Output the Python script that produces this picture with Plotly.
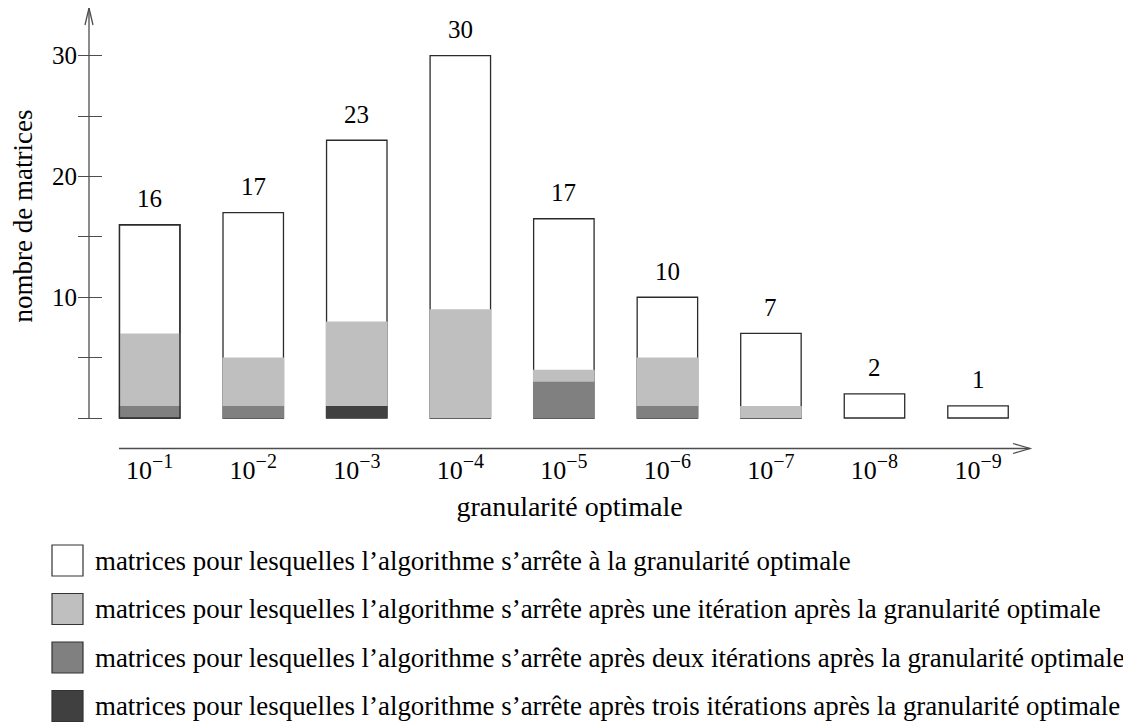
import plotly.graph_objects as go
import numpy as np

# ---------------- data ----------------
exponents = ["−1", "−2", "−3", "−4", "−5", "−6", "−7", "−8", "−9"]
totals = [16, 17, 23, 30, 16.5, 10, 7, 2, 1]          # drawn bar heights
displayed = [16, 17, 23, 30, 17, 10, 7, 2, 1]         # numbers written above the bars
one_iter = [6, 4, 7, 9, 1, 4, 1, 0, 0]
two_iter = [1, 1, 0, 0, 3, 1, 0, 0, 0]
three_iter = [0, 0, 1, 0, 0, 0, 0, 0, 0]
y_ticks = [10, 20, 30]
y_minor_step = 5
legend_labels = [
    "matrices pour lesquelles l’algorithme s’arrête à la granularité optimale",
    "matrices pour lesquelles l’algorithme s’arrête après une itération après la granularité optimale",
    "matrices pour lesquelles l’algorithme s’arrête après deux itérations après la granularité optimale",
    "matrices pour lesquelles l’algorithme s’arrête après trois itérations après la granularité optimale",
]
x_title = "granularité optimale"
y_title = "nombre de matrices"

# ---------------- styles / geometry ----------------
W, H = 1131, 722          # browser window
OFF = 8                   # default page body margin
FW, FH = W - OFF, H - OFF # figure size
FONT = "Liberation Serif"
colors = ["#ffffff", "#bfbfbf", "#808080", "#404040"]
OUT = "#2b2b2b"
AXC = "#4d4d4d"
X0, SX = 149.7, 103.54      # screen px of category 0, px per category
Y0, SY = 418.0, 12.077      # screen px of y=0, px per unit
BW = 0.584

def dx(px):
    return (px - X0) / SX

def dy(px):
    return (Y0 - px) / SY

def px_(px):
    return (px - OFF) / FW

def py_(py):
    return 1 - (py - OFF) / FH

ticktext = [f"10<sup><span style='font-size:20px'>{e}</span></sup>" for e in exponents]
xs = list(range(len(exponents)))
c3 = np.array(three_iter)
c2 = c3 + np.array(two_iter)
c1 = c2 + np.array(one_iter)

fig = go.Figure()
fig.add_trace(go.Bar(x=xs, y=totals, width=BW, marker=dict(color=colors[0], line=dict(color=OUT, width=1.3))))
for vals, col in [(c1, colors[1]), (c2, colors[2]), (c3, colors[3])]:
    fig.add_trace(go.Bar(x=xs, y=vals, width=BW + 0.012, marker=dict(color=col, line=dict(width=0))))
# first bar keeps its outline visible on top of the grey parts
outline_w = [1.3] + [0] * (len(xs) - 1)
fig.add_trace(go.Bar(x=xs, y=totals, width=BW,
                     marker=dict(color="rgba(0,0,0,0)", line=dict(color=OUT, width=outline_w))))

for i, (t, d) in enumerate(zip(totals, displayed)):
    fig.add_annotation(x=i, y=t, text=str(d), showarrow=False, yanchor="middle", yshift=26,
                       font=dict(family=FONT, size=25, color="black"))

shapes = []
ax_x = dx(89)
y_top = dy(8)
shapes.append(dict(type="line", x0=ax_x, x1=ax_x, y0=0, y1=y_top, line=dict(color=AXC, width=1.3)))
shapes.append(dict(type="path",
                   path=f"M {ax_x - 4/SX} {dy(25)} L {ax_x} {y_top} L {ax_x + 4/SX} {dy(25)}",
                   line=dict(color=AXC, width=1.3)))
# x axis arrow (below the plotting domain -> paper coordinates)
shapes.append(dict(type="line", xref="paper", yref="paper", x0=px_(119), x1=px_(1030),
                   y0=py_(448.5), y1=py_(448.5), line=dict(color=AXC, width=1.3)))
shapes.append(dict(type="path", xref="paper", yref="paper",
                   path=f"M {px_(1013)} {py_(443.5)} L {px_(1030)} {py_(448.5)} L {px_(1013)} {py_(453.5)}",
                   line=dict(color=AXC, width=1.3)))

# legend (custom, large squares)
box_tops = [545, 593.5, 642, 690.5]
for lab, col, top in zip(legend_labels, colors, box_tops):
    shapes.append(dict(type="rect", xref="paper", yref="paper",
                       x0=px_(52), x1=px_(83), y0=py_(top), y1=py_(top + 31),
                       fillcolor=col, line=dict(color="#333333", width=1.2)))
    fig.add_annotation(xref="paper", yref="paper", x=px_(93), y=py_(top + 15.5),
                       xanchor="left", yanchor="middle", text=lab, showarrow=False,
                       font=dict(family=FONT, size=26.9, color="black"))

Y_BOTTOM_PX = 424
fig.update_layout(
    width=FW, height=FH, barmode="overlay", showlegend=False,
    margin=dict(l=0, r=0, t=0, b=0),
    plot_bgcolor="white", paper_bgcolor="white",
    font=dict(family=FONT, size=25, color="black"),
    shapes=shapes,
    xaxis=dict(range=[dx(OFF), dx(W)], domain=[0, 1], anchor="free", position=py_(452),
               tickvals=xs, ticktext=ticktext, ticks="", showline=False, showgrid=False,
               zeroline=False, tickfont=dict(family=FONT, size=26),
               title=dict(text=x_title, standoff=12, font=dict(family=FONT, size=28))),
    yaxis=dict(range=[dy(Y_BOTTOM_PX), dy(OFF)], domain=[py_(Y_BOTTOM_PX), 1], anchor="free",
               position=px_(77), tickvals=y_ticks, ticks="inside", ticklen=24,
               tickwidth=1.3, tickcolor=AXC, showline=False, showgrid=False, zeroline=False,
               minor=dict(tick0=0, dtick=y_minor_step, ticks="inside", ticklen=24,
                          tickwidth=1.3, tickcolor=AXC, showgrid=False),
               tickfont=dict(family=FONT, size=25),
               title=dict(text=y_title, standoff=10, font=dict(family=FONT, size=27))),
)

fig.write_html("out.html")
